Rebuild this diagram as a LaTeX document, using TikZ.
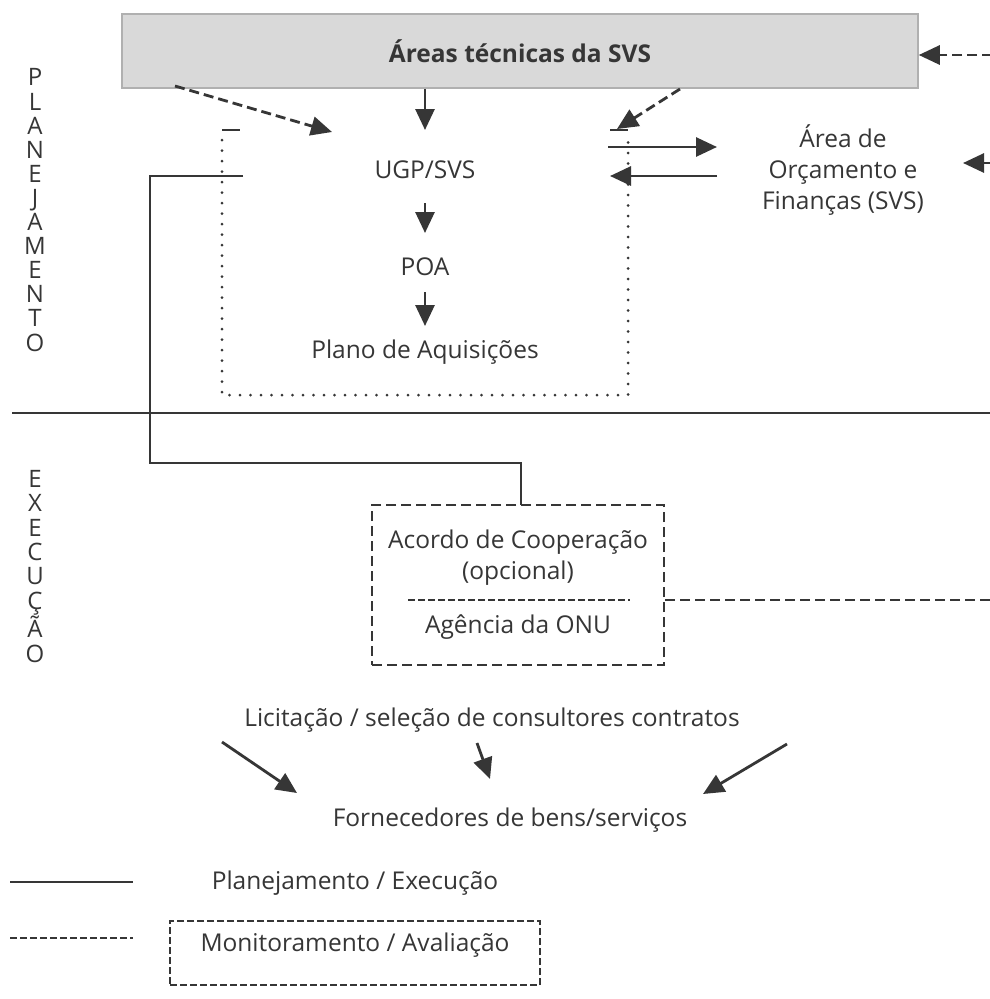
\documentclass[tikz,border=0pt]{standalone}
\usepackage{fontspec}
\setmainfont{Open Sans}
\usetikzlibrary{arrows.meta}
\definecolor{ink}{HTML}{363636}
\definecolor{boxgray}{HTML}{D9D9D9}
\definecolor{boxedge}{HTML}{B0B0B0}
\begin{document}
\begin{tikzpicture}[x=1pt,y=-1pt,
  ln/.style={draw=ink, line width=2.8pt},
  tip/.style={-{Triangle[length=21pt,width=19pt]}},
  arr/.style={ln, tip},
  dsh/.style={ln, dash pattern=on 10pt off 5pt},
  dotln/.style={draw=ink, line width=3pt, line cap=round, dash pattern=on 0pt off 10.5pt},
  txt/.style={text=ink, font=\fontsize{24.5}{31}\selectfont, inner sep=0pt, align=center},
  vert/.style={text=ink, inner sep=0pt, align=center}
]
\fill[white] (0,0) rectangle (990,999);
\useasboundingbox (0,0) rectangle (990,999);

% top gray box
\node[draw=boxedge, fill=boxgray, line width=1.5pt, minimum width=796pt, minimum height=74pt, inner sep=0pt,
      text=ink, font=\bfseries\fontsize{24.5}{31}\selectfont] (areas) at (520,51) {Áreas técnicas da SVS};

% side labels
\node[vert, font=\fontsize{24}{24.1}\selectfont] (plan) at (35,210) {P\\L\\A\\N\\E\\J\\A\\M\\E\\N\\T\\O};
\node[vert, anchor=north, font=\fontsize{24}{24.4}\selectfont] (exec) at (35,470) {E\\X\\E\\C\\U\\Ç\\Ã\\O};

% central nodes
\node[txt] (ugp) at (425,170) {UGP/SVS};
\node[txt] (poa) at (425,267) {POA};
\node[txt] (plano) at (425,352) {Plano de Aquisições};
\node[txt] (orc) at (843,170) {Área de\\Orçamento e\\Finanças (SVS)};

% dotted frame
\draw[dotln] (222,140) -- (222,395) -- (628,395) -- (628,140);
\draw[ln, line width=2.4pt] (222,130) -- (240,130);
\draw[ln, line width=2.4pt] (610,130) -- (628,130);

% arrows from top box
\coordinate (tl) at (175,86);
\coordinate (tlh) at (332,132);
\coordinate (tr) at (680,89);
\coordinate (trh) at (617,129);
\draw[dsh, tip] (tl) -- (tlh);
\draw[dsh, tip] (tr) -- (trh);
\draw[arr] (areas.south -| ugp) -- (425,130);
\coordinate (p1) at (425,203);
\coordinate (p1h) at (425,233);
\coordinate (p2) at (425,292);
\coordinate (p2h) at (425,326);
\draw[arr] (p1) -- (p1h);
\draw[arr] (p2) -- (p2h);

% arrows with finance area
\coordinate (f1) at (608,147);
\coordinate (f2) at (717,147);
\coordinate (f3) at (717,176);
\coordinate (f4) at (610,176);
\draw[arr] (f1) -- (f2);
\draw[arr] (f3) -- (f4);

% right edge arrows
\coordinate (re1) at (992,55);
\draw[dsh, tip] (re1) -- (areas.east |- re1);
\coordinate (re2) at (992,163);
\coordinate (re2h) at (963,163);
\draw[arr] (re2) -- (re2h);

% separator
\coordinate (s1) at (12,413);
\coordinate (s2) at (990,413);
\draw[ln] (s1) -- (s2);

% UN box
\node[dsh, minimum width=292pt, minimum height=160pt, inner sep=0pt] (onubox) at (518,585) {};
\node[txt] (acordo) at (518,558) {Acordo de Cooperação\\(opcional)};
\node[txt] (agencia) at (518,627) {Agência da ONU};
\draw[draw=ink, line width=1.8pt, dash pattern=on 7pt off 3pt] (408,600) -- (630,600);
\coordinate (r3) at (992,600);
\draw[dsh] (onubox.east |- r3) -- (r3);

% planning -> execution connector
\coordinate (c1) at (243,176);
\draw[ln] (c1) -- (150,176) |- (521,463) -- (521,505);

% procurement
\node[txt] (lic) at (492,720) {Licitação / seleção de consultores contratos};
\node[txt] (forn) at (510,820) {Fornecedores de bens/serviços};
\coordinate (a1) at (222,742);
\coordinate (a1h) at (297,793);
\coordinate (a2) at (477,743);
\coordinate (a2h) at (490,779);
\coordinate (a3) at (787,744);
\coordinate (a3h) at (703,794);
\draw[arr] (a1) -- (a1h);
\draw[arr] (a2) -- (a2h);
\draw[arr] (a3) -- (a3h);

% legend
\coordinate (l1) at (10,882);
\coordinate (l2) at (133,882);
\draw[ln] (l1) -- (l2);
\node[txt] (leg1) at (355,883) {Planejamento / Execução};
\coordinate (l3) at (10,938);
\coordinate (l4) at (133,938);
\draw[ln, line width=2.2pt, dash pattern=on 7pt off 3pt] (l3) -- (l4);
\node[dsh, line width=2.2pt, dash pattern=on 7pt off 3pt, minimum width=370pt, minimum height=64pt, inner sep=0pt] (legbox) at (355,953) {};
\node[txt] (leg2) at (355,945) {Monitoramento / Avaliação};
\end{tikzpicture}
\end{document}
